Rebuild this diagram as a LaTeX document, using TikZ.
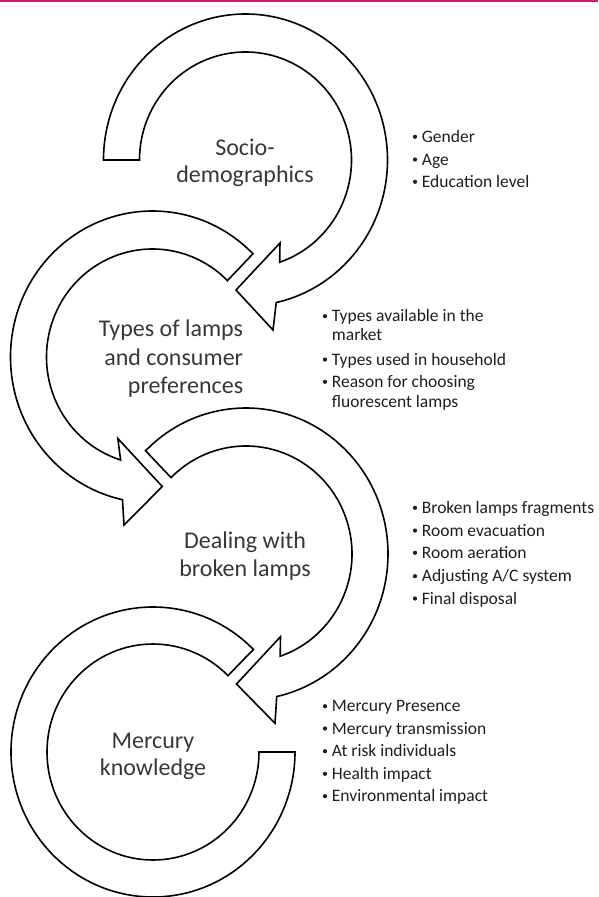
\documentclass[tikz,border=0pt]{standalone}
\usepackage{fontspec}
\setmainfont{Carlito}
\definecolor{topline}{RGB}{204,31,112}
\definecolor{txt}{RGB}{30,30,30}
\definecolor{lbltxt}{RGB}{55,55,55}
\begin{document}
\begin{tikzpicture}[x=1pt, y=-1pt,
  ring/.style={draw=black, line width=1.6pt, fill=white, line join=miter, miter limit=10},
  lbl/.style={text=lbltxt, font=\fontsize{24}{29}\selectfont, inner sep=0pt},
  itm/.style={text=txt, font=\fontsize{17.5}{20}\selectfont, inner sep=0pt, anchor=base west}]
\useasboundingbox (0,0) rectangle (598,897);
\fill[topline] (0,0) rectangle (598,1.6);

% centres of the four circular arrows
\coordinate (c1) at (245.5,160);
\coordinate (c2) at (152.5,357);
\coordinate (c3) at (246,554);
\coordinate (c4) at (153,752);

% arrow 1 : Socio-demographics
\draw[ring] ([shift={(c1)}]180:142 and 146)
  arc[start angle=180, end angle=437.5, x radius=142, y radius=146]
  -- (273,330) -- (236,290) -- (280,243)
  -- ([shift={(c1)}]431.2:106 and 108)
  arc[start angle=431.2, end angle=180, x radius=106, y radius=108] -- cycle;

% arrow 2 : Types of lamps
\draw[ring] ([shift={(c2)}]-45:142 and 146)
  arc[start angle=-45, end angle=-257.8, x radius=142, y radius=146]
  -- (124,525) -- (162.3,486.5) -- (117.8,438.5)
  -- ([shift={(c2)}]-252.5:106 and 108)
  arc[start angle=-252.5, end angle=-45, x radius=106, y radius=108] -- cycle;

% arrow 3 : Dealing with broken lamps
\draw[ring] ([shift={(c3)}]-135:142 and 146)
  arc[start angle=-135, end angle=77.5, x radius=142, y radius=146]
  -- (275,723.3) -- (236.5,684) -- (280.5,636.7)
  -- ([shift={(c3)}]71.2:106 and 108)
  arc[start angle=71.2, end angle=-135, x radius=106, y radius=108] -- cycle;

% ring 4 : Mercury knowledge
\draw[ring] ([shift={(c4)}]-45:142 and 145)
  arc[start angle=-45, end angle=-360, x radius=142, y radius=145]
  -- ([shift={(c4)}]0:106 and 108)
  arc[start angle=-360, end angle=-45, x radius=106, y radius=108] -- cycle;

% main labels
\node[lbl, anchor=base] (s1) at (245,155) {Socio-};
\node[lbl, anchor=base] (s2) at (245,182.5) {demographics};
\node[lbl, anchor=base east] (t1) at (243.3,336.7) {Types of lamps};
\node[lbl, anchor=base east] (t2) at (243.3,365.5) {and consumer};
\node[lbl, anchor=base east] (t3) at (243.3,393.5) {preferences};
\node[lbl, anchor=base] (d1) at (245,548.3) {Dealing with};
\node[lbl, anchor=base] (d2) at (245,576.5) {broken lamps};
\node[lbl, anchor=base] (m1) at (153,748.3) {Mercury};
\node[lbl, anchor=base] (m2) at (153,775) {knowledge};

% bullet list 1
\foreach \y/\t [count=\i] in {142.3/{Gender}, 165/{Age}, 187.3/{Education level}}{
  \fill[txt] (415,\y-5.5) circle (2.1pt);
  \node[itm] (la\i) at (421.7,\y) {\t};
}
% bullet list 2
\foreach \y in {321.7,365,387.3}{\fill[txt] (325,\y-5.5) circle (2.1pt);}
\node[itm] (lb1) at (331.7,321.7) {Types available in the};
\node[itm] (lb2) at (331.7,340.9) {market};
\node[itm] (lb3) at (331.7,365) {Types used in household};
\node[itm] (lb4) at (331.7,387.3) {Reason for choosing};
\node[itm] (lb5) at (331.7,407) {fluorescent lamps};
% bullet list 3
\foreach \y/\t [count=\i] in {513.3/{Broken lamps fragments}, 536/{Room evacuation}, 558.3/{Room aeration}, 581.7/{Adjusting A/C system}, 604/{Final disposal}}{
  \fill[txt] (415,\y-5.5) circle (2.1pt);
  \node[itm] (lc\i) at (421.7,\y) {\t};
}
% bullet list 4
\foreach \y/\t [count=\i] in {711.7/{Mercury Presence}, 734/{Mercury transmission}, 756.7/{At risk individuals}, 779.3/{Health impact}, 801.7/{Environmental impact}}{
  \fill[txt] (325,\y-5.5) circle (2.1pt);
  \node[itm] (ld\i) at (331.7,\y) {\t};
}
\end{tikzpicture}
\end{document}
